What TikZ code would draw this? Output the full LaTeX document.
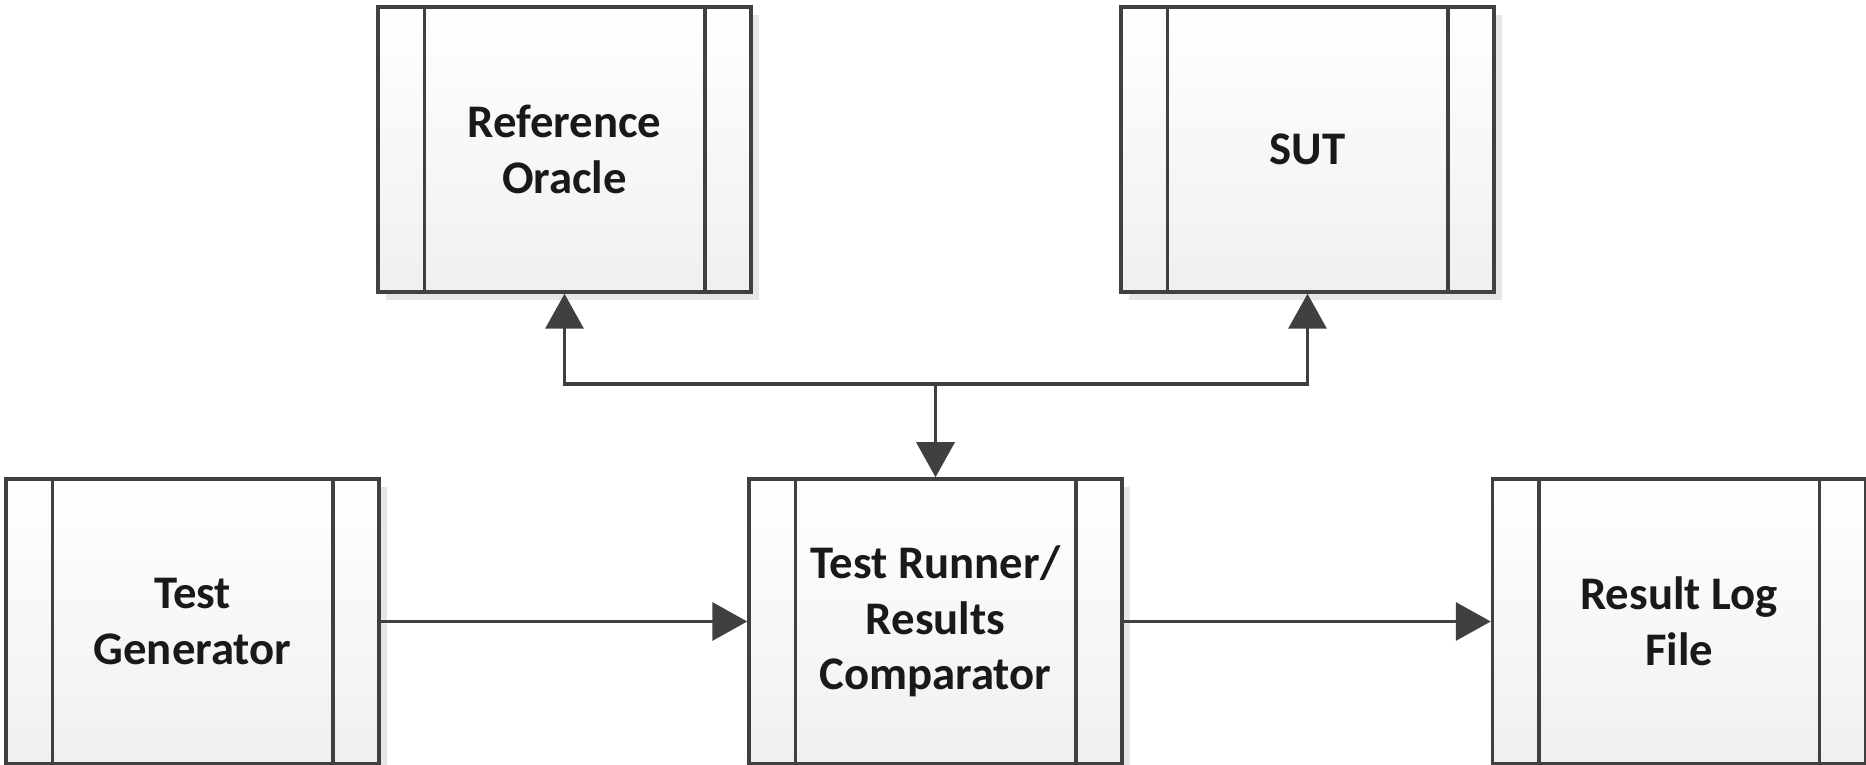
\documentclass[tikz,border=0pt]{standalone}
\usepackage{fontspec}
\setmainfont{Carlito}
\usetikzlibrary{arrows.meta, shadows}

\definecolor{linegray}{HTML}{404040}
\definecolor{shadowgray}{HTML}{E6E6E6}

\tikzset{
  procbox/.style={draw=linegray, line width=0.35mm, top color=white, bottom color=black!6,
    minimum width=37.3mm, minimum height=28.5mm, align=center, inner sep=0pt,
    font=\fontsize{13.3}{15.8}\selectfont\bfseries, text=black!90,
    drop shadow={shadow xshift=0.8mm, shadow yshift=-0.8mm, fill=shadowgray, opacity=1}},
  flow/.style={draw=linegray, line width=0.35mm, -{Triangle[length=3.5mm, width=3.8mm]}}
}

\begin{document}
\begin{tikzpicture}[x=0.1mm, y=-0.1mm]
    \useasboundingbox (0,0) rectangle (1866,765);
    \node[procbox] (oracle) at (564.5,149.5) {Reference\\Oracle};
    \node[procbox] (sut) at (1307.5,149.5) {SUT};
    \node[procbox] (gen) at (192.5,621.5) {Test\\Generator};
    \node[procbox] (runner) at (935.5,621.5) {Test Runner/\\Results\\Comparator};
    \node[procbox] (log) at (1679,621.5) {Result Log\\File};
    % side bars of each box
    \foreach \n in {oracle,sut,gen,runner,log} {
      \draw[linegray, line width=0.35mm] ([xshift=4.8mm]\n.north west) -- ([xshift=4.8mm]\n.south west);
      \draw[linegray, line width=0.35mm] ([xshift=-4.8mm]\n.north east) -- ([xshift=-4.8mm]\n.south east);
    }
    \coordinate (split) at (935.5,384);
    \draw[flow] (split) -| (oracle.south);
    \draw[flow] (split) -| (sut.south);
    \draw[flow] (split) -- (runner.north);
    \draw[flow] (gen.east) -- (runner.west);
    \draw[flow] (runner.east) -- (log.west);
  \end{tikzpicture}
\end{document}
